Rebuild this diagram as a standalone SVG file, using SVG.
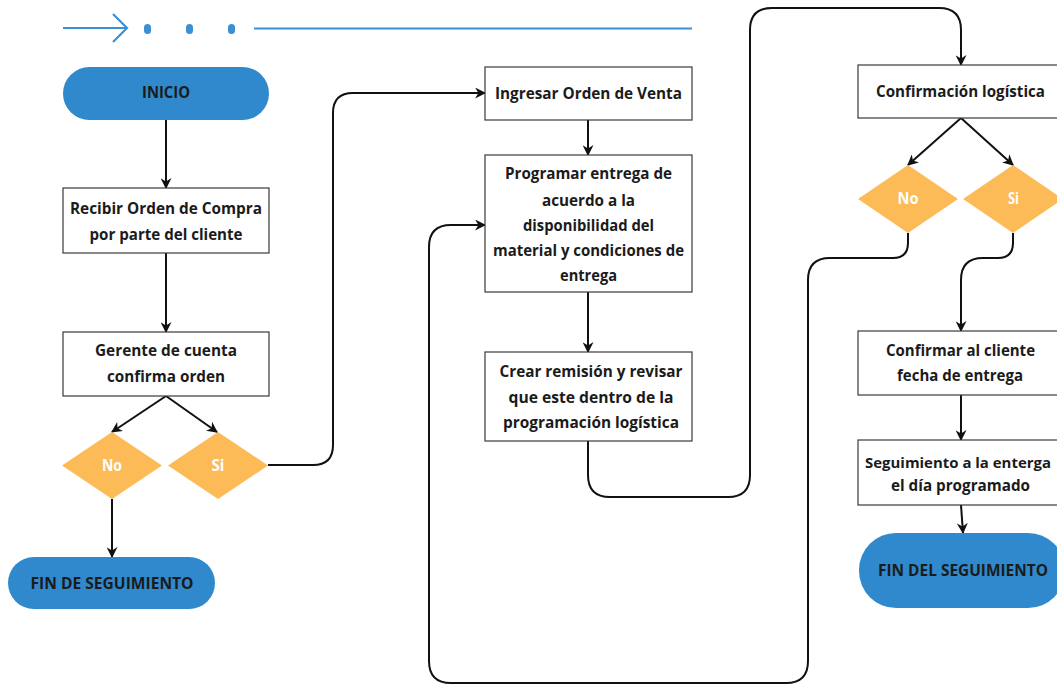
<svg xmlns="http://www.w3.org/2000/svg" width="1057" height="685" viewBox="0 0 1057 685">
<style>
.box{fill:#fff;stroke:#3a3a3a;stroke-width:1.2}
.term{fill:#2f89cc}
.dia{fill:#fdbb57}
.t{font-family:"Open Sans","Noto Sans","Liberation Sans",sans-serif;font-weight:bold;font-size:16px;fill:#1b1b1b;text-anchor:middle}
.w{fill:#ffffff}
.c{fill:none;stroke:#111;stroke-width:2}
.hd{fill:none;stroke:#3d8fd3;stroke-width:2.2}
</style>
<defs>
<marker id="ah" viewBox="0 0 10 10" refX="9" refY="5" markerWidth="5.5" markerHeight="5.5" orient="auto" markerUnits="strokeWidth">
<path d="M0,0 L10,5 L0,10 L3,5 z" fill="#111"/>
</marker>
</defs>
<rect width="1057" height="685" fill="#fff"/>
<g id="header">
<path class="hd" d="M63,28 H126 M113,14 L127,28 L113,42"/>
<rect x="144" y="24" width="7" height="10" rx="3.5" fill="#3d8fd3"/>
<rect x="186" y="24" width="7" height="10" rx="3.5" fill="#3d8fd3"/>
<rect x="228" y="24" width="7" height="10" rx="3.5" fill="#3d8fd3"/>
<path class="hd" d="M254,28.5 H692"/>
</g>
<g id="connectors">
<path class="c" marker-end="url(#ah)" d="M166,120 V188"/>
<path class="c" marker-end="url(#ah)" d="M166,253 V332"/>
<path class="c" marker-end="url(#ah)" d="M166,396 L112,432"/>
<path class="c" marker-end="url(#ah)" d="M166,396 L217,432"/>
<path class="c" marker-end="url(#ah)" d="M112,499 V557"/>
<path class="c" marker-end="url(#ah)" d="M268,465 H313 Q333,465 333,445 V113 Q333,93 353,93 H485"/>
<path class="c" marker-end="url(#ah)" d="M588,120 V155"/>
<path class="c" marker-end="url(#ah)" d="M588,292 V352"/>
<path class="c" marker-end="url(#ah)" d="M588,441 V475 Q588,497 610,497 H728 Q750,497 750,475 V30 Q750,8 772,8 H939 Q961,8 961,30 V65"/>
<path class="c" marker-end="url(#ah)" d="M961,118 L908,165"/>
<path class="c" marker-end="url(#ah)" d="M961,118 L1013,165"/>
<path class="c" marker-end="url(#ah)" d="M908,233 V243 Q908,258 893,258 H830 Q808,258 808,280 V661 Q808,683 786,683 H451 Q429,683 429,661 V247 Q429,225 451,225 H485"/>
<path class="c" marker-end="url(#ah)" d="M1013,233 V243 Q1013,258 998,258 H983 Q961,258 961,280 V331"/>
<path class="c" marker-end="url(#ah)" d="M961,395 V440"/>
<path class="c" marker-end="url(#ah)" d="M961,505 L963,533"/>
</g>
<g id="inicio">
<rect class="term" x="63" y="67" width="206" height="53" rx="26.5"/>
<text class="t" x="166" y="98" textLength="48" lengthAdjust="spacingAndGlyphs">INICIO</text>
</g>
<g id="recibir">
<rect class="box" x="63" y="188" width="206" height="65"/>
<text class="t" x="166" y="214" textLength="192" lengthAdjust="spacingAndGlyphs">Recibir Orden de Compra</text>
<text class="t" x="166" y="240" textLength="153" lengthAdjust="spacingAndGlyphs">por parte del cliente</text>
</g>
<g id="gerente">
<rect class="box" x="63" y="332" width="206" height="64"/>
<text class="t" x="166" y="356" textLength="142" lengthAdjust="spacingAndGlyphs">Gerente de cuenta</text>
<text class="t" x="166" y="382" textLength="118" lengthAdjust="spacingAndGlyphs">confirma orden</text>
</g>
<g id="no1">
<polygon class="dia" points="112,432 162,465.5 112,499 62,465.5"/>
<text class="t w" x="112" y="471" textLength="20" lengthAdjust="spacingAndGlyphs">No</text>
</g>
<g id="si1">
<polygon class="dia" points="218,432 268,465.5 218,499 168,465.5"/>
<text class="t w" x="218" y="471" textLength="13" lengthAdjust="spacingAndGlyphs">Si</text>
</g>
<g id="fin1">
<rect class="term" x="8" y="557" width="207" height="52" rx="26"/>
<text class="t" x="112" y="589" textLength="163" lengthAdjust="spacingAndGlyphs">FIN DE SEGUIMIENTO</text>
</g>
<g id="ingresar">
<rect class="box" x="485" y="67" width="207" height="53"/>
<text class="t" x="588.5" y="99" textLength="187" lengthAdjust="spacingAndGlyphs">Ingresar Orden de Venta</text>
</g>
<g id="programar">
<rect class="box" x="485" y="155" width="207" height="137"/>
<text class="t" x="588.5" y="179" textLength="167" lengthAdjust="spacingAndGlyphs">Programar entrega de</text>
<text class="t" x="588.5" y="206" textLength="93" lengthAdjust="spacingAndGlyphs">acuerdo a la</text>
<text class="t" x="588.5" y="231" textLength="131" lengthAdjust="spacingAndGlyphs">disponibilidad del</text>
<text class="t" x="588.5" y="256" textLength="191" lengthAdjust="spacingAndGlyphs">material y condiciones de</text>
<text class="t" x="588.5" y="281" textLength="57" lengthAdjust="spacingAndGlyphs">entrega</text>
</g>
<g id="crear">
<rect class="box" x="485" y="352" width="207" height="89"/>
<text class="t" x="591" y="377" textLength="183" lengthAdjust="spacingAndGlyphs">Crear remisión y revisar</text>
<text class="t" x="591" y="403" textLength="165" lengthAdjust="spacingAndGlyphs">que este dentro de la</text>
<text class="t" x="591" y="428" textLength="176" lengthAdjust="spacingAndGlyphs">programación logística</text>
</g>
<g id="confirmacion">
<rect class="box" x="858" y="65" width="206" height="53"/>
<text class="t" x="960.5" y="97" textLength="169" lengthAdjust="spacingAndGlyphs">Confirmación logística</text>
</g>
<g id="no2">
<polygon class="dia" points="908,165 958,199 908,233 858,199"/>
<text class="t w" x="908" y="204" textLength="21" lengthAdjust="spacingAndGlyphs">No</text>
</g>
<g id="si2">
<polygon class="dia" points="1013,165 1063,199 1013,233 963,199"/>
<text class="t w" x="1013.5" y="204" textLength="11" lengthAdjust="spacingAndGlyphs">Si</text>
</g>
<g id="confirmar">
<rect class="box" x="858" y="331" width="206" height="64"/>
<text class="t" x="960.5" y="356" textLength="149" lengthAdjust="spacingAndGlyphs">Confirmar al cliente</text>
<text class="t" x="960" y="381" textLength="126" lengthAdjust="spacingAndGlyphs">fecha de entrega</text>
</g>
<g id="seguimiento">
<rect class="box" x="858" y="440" width="206" height="65"/>
<text class="t" x="958" y="468" font-size="14" textLength="186" lengthAdjust="spacingAndGlyphs" style="font-size:14.5px">Seguimiento a la enterga</text>
<text class="t" x="960.5" y="491" textLength="139" lengthAdjust="spacingAndGlyphs">el día programado</text>
</g>
<g id="fin2">
<rect class="term" x="859" y="533" width="206" height="75" rx="37"/>
<text class="t" x="963" y="576" textLength="170" lengthAdjust="spacingAndGlyphs">FIN DEL SEGUIMIENTO</text>
</g>
</svg>
